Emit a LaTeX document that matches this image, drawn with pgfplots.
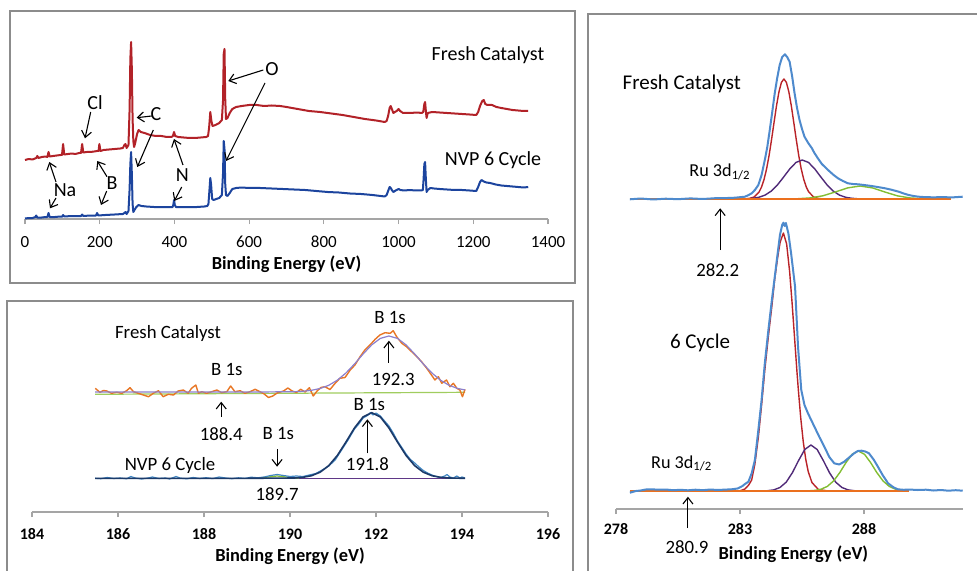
\documentclass[border=0pt]{standalone}
\usepackage{pgfplots}
\pgfplotsset{compat=1.18}
\usepackage{fontspec}
\setmainfont{Carlito}
\usetikzlibrary{arrows.meta}

\definecolor{framegray}{RGB}{140,140,140}
\definecolor{axgray}{RGB}{165,165,165}
\definecolor{survred}{RGB}{178,34,40}
\definecolor{survblue}{RGB}{28,68,158}
\definecolor{borange}{RGB}{232,118,36}
\definecolor{bfit}{RGB}{140,128,205}
\definecolor{bgreen}{RGB}{160,205,95}
\definecolor{nvpblue}{RGB}{65,135,195}
\definecolor{nvpnavy}{RGB}{28,58,105}
\definecolor{nvpbase}{RGB}{95,55,135}
\definecolor{rublue}{RGB}{78,138,205}
\definecolor{rured}{RGB}{185,35,40}
\definecolor{rupurple}{RGB}{80,42,120}
\definecolor{rugreen}{RGB}{130,190,50}
\definecolor{ruorange}{RGB}{235,112,30}

\newcommand{\fs}[1]{\fontsize{#1}{#1}\selectfont}

\tikzset{arr/.style={-{Straight Barb[length=3.2pt,width=5pt]}, line width=0.55pt, black}}
\pgfplotsset{
  panel/.style={
    scale only axis, clip=false,
    axis x line*=bottom, axis y line=none,
    axis line style={draw=axgray, line width=0.6pt},
    xtick style={draw=axgray, line width=0.6pt},
    tick align=outside, major tick length=2.5pt,
    xlabel style={font=\bfseries\fs{9.2}, at={(axis description cs:0.5,0)}, anchor=center},
    every axis plot/.append style={line join=round, mark=none},
  },
}

\begin{document}
\begin{tikzpicture}[x=0.5pt,y=-0.5pt]
\useasboundingbox (0,0) rectangle (977,571);
\fill[white] (0,0) rectangle (977,571);

% panel frames
\draw[framegray, line width=0.7pt] (10,11) rectangle (575,283);
\draw[framegray, line width=0.7pt] (7,590) -- (7,301) -- (573,301) -- (573,590);
\draw[framegray, line width=0.9pt] (588,590) -- (588,14) -- (990,14);

\coordinate (A) at (25,219);
\coordinate (B) at (32,512);
\coordinate (C) at (616,509);

% ---------------- survey spectra ----------------
\begin{axis}[panel, at={(A)}, anchor=south west,
  width=261.5pt, height=90pt,
  xmin=0, xmax=1400, ymin=0, ymax=180,
  xtick={0,200,400,600,800,1000,1200,1400},
  xticklabels={0,200,400,600,800,1000,1200,1400},
  xticklabel style={font=\fs{8.5}, anchor=center, yshift=-9pt},
  xlabel={Binding Energy (eV)}, xlabel style={yshift=-22.5pt}]
\addplot[survred, line width=1pt] coordinates {
(0,59) (10,60) (20,59.5) (30,61) (33,63) (36,61) (45,62) (55,62.5) (60,62) (63,67) (66,62.5)
(75,63) (85,63.5) (95,64) (99,64) (102,75) (105,64.5) (115,65) (125,65.5) (135,65) (145,66)
(150,66) (153,75) (156,66.5) (165,67) (175,67) (185,67.5) (193,68) (197,68) (199,75) (202,68)
(210,69) (225,69.5) (240,70) (255,70.5) (262,71) (266,74) (269,75) (272,71) (277,74) (280,110)
(282,160) (284,177) (286,150) (288,100) (290,78) (292,72) (295,76) (300,85) (304,89) (310,87)
(320,86) (335,84) (350,83) (365,83) (380,82) (392,82) (396,83) (399,87) (402,83) (410,82)
(425,81.5) (440,81) (455,81) (470,81.5) (485,82) (490,83) (493,92) (496,107) (499,98) (502,93)
(510,94) (520,96) (527,99) (530,118) (532,165) (534,170) (536,120) (538,100) (542,101) (548,106)
(555,110) (565,112) (580,113) (600,114) (620,114) (640,113) (660,113.5) (683,113) (700,112)
(730,110) (760,108) (790,107) (820,105.5) (850,104) (880,102) (910,100) (940,98.5) (963,97)
(968,98) (972,103) (976,111) (979,113) (982,110) (986,106) (990,107) (995,108) (1000,110)
(1004,108) (1012,106) (1030,106) (1050,106.5) (1062,106) (1066,107) (1069,115) (1071,117)
(1073,108) (1075,101) (1078,106) (1090,107) (1110,106.5) (1130,106) (1150,105.5) (1170,105)
(1190,104.5) (1208,104) (1213,107) (1218,113) (1224,118) (1228,119) (1232,115) (1238,114)
(1250,114) (1262,112) (1275,111) (1290,110) (1305,109) (1320,108.5) (1335,108) (1347,108)};
\addplot[survblue, line width=1pt] coordinates {
(0,0.5) (10,1) (20,1) (28,2) (30,3.5) (33,1.5) (45,1.5) (55,2) (60,2) (63,6) (66,2) (80,2)
(95,2.5) (100,2.5) (102,4) (105,2.5) (125,3) (145,3) (150,3) (153,4.5) (156,3) (175,3.5)
(190,3.5) (193,6) (196,3.5) (215,4) (240,4.5) (262,5) (266,6) (269,7) (272,5) (277,8) (280,30)
(282,55) (284,67) (286,45) (288,15) (290,7) (293,9) (298,12) (304,14) (312,13) (325,12.5)
(345,12) (365,12) (385,12) (395,12) (397,14) (399,19) (401,14) (404,12) (420,12) (440,12)
(460,12) (480,12.5) (488,13) (491,15) (493,25) (496,41) (498,35) (501,20) (505,19) (512,20)
(520,21) (527,24) (530,45) (532,78) (534,70) (536,35) (538,24) (542,23) (548,26) (555,30)
(565,31) (580,31.5) (600,31) (630,31) (660,30.5) (690,30) (720,29.5) (750,29) (780,28)
(810,27) (840,26.5) (870,25.5) (900,25) (930,24) (963,22.5) (968,24) (972,28) (976,32)
(979,31) (982,29) (986,27) (992,28.5) (1000,30) (1005,29) (1015,28.5) (1030,29) (1045,28.5)
(1060,28.5) (1065,29) (1067,40) (1069,55) (1071,57) (1073,40) (1075,27) (1078,29) (1085,31)
(1095,30.5) (1110,30) (1130,29.5) (1150,29) (1170,29) (1190,28.5) (1208,28) (1213,32)
(1218,37) (1222,39) (1228,37.5) (1235,36.5) (1245,36) (1260,34.5) (1275,33.5) (1290,33)
(1305,32.5) (1320,32) (1335,31.5) (1347,32)};
\end{axis}

% survey labels and element arrows
\node[font=\fs{10}] at (488,55) {Fresh Catalyst};
\node[font=\fs{10}] at (493,160) {NVP 6 Cycle};
\node[font=\fs{10}] at (95,102.7) {Cl};
\node[font=\fs{10}] at (156,114.3) {C};
\node[font=\fs{10}] at (272,69.3) {O};
\node[font=\fs{10}] at (65,190) {Na};
\node[font=\fs{10}] at (112,183.3) {B};
\node[font=\fs{10}] at (182.3,175) {N};
\draw[arr] (90.7,112) -- (85,138.3);
\draw[arr] (151.7,116) -- (136.7,117.7);
\draw[arr] (153.3,130) -- (137.3,167);
\draw[arr] (263.3,70) -- (228.3,81);
\draw[arr] (265,83) -- (226,161);
\draw[arr] (56,182) -- (49.3,162);
\draw[arr] (56,198) -- (50,208.3);
\draw[arr] (107,176.7) -- (97.3,161);
\draw[arr] (106.7,191) -- (101,205);
\draw[arr] (183,165) -- (174,139);
\draw[arr] (181.7,187) -- (174.3,201);

% ---------------- B 1s region ----------------
\begin{axis}[panel, at={(B)}, anchor=south west,
  width=258pt, height=100pt,
  xmin=184, xmax=196, ymin=0, ymax=200,
  xtick={184,186,188,190,192,194,196},
  xticklabels={184,186,188,190,192,194,196},
  xticklabel style={font=\bfseries\fs{8}, anchor=center, yshift=-8.5pt},
  xlabel={Binding Energy (eV)}, xlabel style={yshift=-22pt}]
% fresh catalyst
\addplot[bgreen, line width=0.6pt] coordinates {(185.47,117.7) (194.07,119.7)};
\addplot[borange, line width=0.7pt] coordinates {
(185.47,123.7) (185.58,119.7) (185.66,121.5) (185.74,121) (185.85,118.7) (185.97,119.7)
(186.09,118.7) (186.2,121.3) (186.28,124.3) (186.36,120.3) (186.47,118.7) (186.59,117)
(186.71,115.3) (186.82,118.7) (186.94,121.3) (187.05,115.3) (187.17,117.7) (187.29,117)
(187.4,121) (187.52,122) (187.63,118.7) (187.71,123.7) (187.81,127) (187.87,118.7)
(187.95,120.3) (188.06,118.7) (188.18,120.3) (188.3,122) (188.41,119.3) (188.53,120.3)
(188.62,126) (188.72,120.3) (188.84,121.3) (188.95,118.7) (189.07,120.3) (189.19,122.7)
(189.3,120.3) (189.4,118) (189.5,114.5) (189.6,116) (189.7,119) (189.85,121) (189.95,124)
(190.05,121) (190.15,119.5) (190.25,122.7) (190.35,120) (190.45,124.3) (190.54,116)
(190.63,121) (190.72,124.5) (190.81,125.3) (190.93,122.5) (191.05,128.7) (191.16,133.7)
(191.28,134.5) (191.4,142) (191.51,147) (191.63,155.3) (191.74,162) (191.86,167)
(191.98,172.7) (192.09,177) (192.21,179.3) (192.33,178.7) (192.4,181.3) (192.48,175.3)
(192.6,168.7) (192.71,165.3) (192.83,160.3) (192.95,155.3) (193.06,150.3) (193.18,143.7)
(193.29,137) (193.37,132) (193.45,135.3) (193.53,128.7) (193.64,132) (193.72,125.3)
(193.8,128.7) (193.88,123.7) (193.95,122) (194.01,115.3) (194.07,122.7)};
\addplot[bfit, line width=0.6pt] coordinates {
(185.47,120) (186.5,120) (187.5,120) (188.5,120) (189.5,120.1) (190.1,120.3) (190.3,120.7)
(190.5,121.7) (190.7,123.5) (190.9,126.7) (191.1,131.8) (191.3,139) (191.5,148) (191.7,158)
(191.9,167.1) (192.1,173.6) (192.3,176) (192.5,173.6) (192.7,167.1) (192.9,158) (193.1,148)
(193.3,139) (193.5,131.8) (193.7,126.7) (193.9,123.5) (194.07,122.1)};
% NVP 6 cycle
\addplot[nvpbase, line width=0.6pt] coordinates {(185.47,33.7) (194.07,33.7)};
\addplot[rugreen, line width=0.6pt] coordinates {(189.2,33.7) (189.45,34.8) (189.7,36) (189.95,34.8) (190.2,33.7)};
\addplot[nvpblue, line width=0.6pt] coordinates {
(185.47,33.7) (185.6,33.3) (185.75,34.5) (185.9,33.5) (186.05,34) (186.2,33.2) (186.3,35.5)
(186.4,34) (186.55,33) (186.7,34) (186.8,35) (186.95,33.5) (187.1,34) (187.2,33) (187.35,35.5)
(187.45,33.8) (187.6,33.2) (187.75,34.5) (187.9,33.5) (188.05,34.3) (188.2,33.4) (188.35,35)
(188.5,34) (188.65,33.3) (188.8,34.2) (188.95,33.6) (189.1,34.8) (189.25,34.2) (189.4,35)
(189.55,36.5) (189.7,37.5) (189.85,36.5) (190,35.5) (190.15,36) (190.3,35.5) (190.45,37)
(190.6,38.5) (190.75,42) (190.9,46) (191.05,52) (191.2,62) (191.35,72) (191.5,83) (191.6,88)
(191.7,94) (191.8,96.5) (191.87,99.5) (191.93,97) (192,99) (192.1,96) (192.2,91) (192.3,86)
(192.4,79) (192.5,71) (192.6,64.5) (192.7,58) (192.8,52.5) (192.9,49) (193,45) (193.1,41.5)
(193.2,39) (193.3,37) (193.4,35.5) (193.5,34.5) (193.6,36) (193.65,37.5) (193.72,35)
(193.8,34) (193.88,36) (193.95,34) (194,35) (194.07,34)};
\addplot[nvpnavy, line width=0.8pt] coordinates {
(185.47,33.7) (189,33.7) (190.1,34) (190.3,34.7) (190.5,36.3) (190.7,39.8) (190.9,46.3)
(191.1,56.5) (191.3,69.9) (191.5,84.1) (191.7,95.1) (191.9,99.3) (192.1,95.1) (192.3,84.1)
(192.5,69.9) (192.7,56.5) (192.9,46.3) (193.1,39.8) (193.3,36.3) (193.5,34.7) (193.7,34)
(194.07,33.7)};
% peak positions
\draw[arr] (axis cs:188.4,95.3) -- (axis cs:188.4,110.3);
\node[font=\fs{9.4}] at (axis cs:188.4,78) {188.4};
\draw[arr] (axis cs:189.7,62.7) -- (axis cs:189.7,45.3);
\node[font=\fs{9.4}] at (axis cs:189.7,18) {189.7};
\draw[arr] (axis cs:192.3,149.3) -- (axis cs:192.3,171.3);
\node[font=\fs{9.4}] at (axis cs:192.4,132.7) {192.3};
\draw[arr] (axis cs:191.8,58.7) -- (axis cs:191.8,92.7);
\node[font=\fs{9.4}] at (axis cs:191.8,48) {191.8};
\end{axis}

\node[font=\fs{9.4}] at (168,333.3) {Fresh Catalyst};
\node[font=\fs{9.4}] at (226.7,370) {B 1s};
\node[font=\fs{9.4}] at (170,465) {NVP 6 Cycle};
\node[font=\fs{9.4}] at (278.3,434) {B 1s};
\node[font=\fs{9.4}] at (390,317.3) {B 1s};
\node[font=\fs{9.4}] at (369.3,405) {B 1s};

% ---------------- Ru 3d / C 1s region ----------------
\begin{axis}[panel, at={(C)}, anchor=south west,
  width=173.6pt, height=230pt,
  xmin=278, xmax=292, ymin=0, ymax=460,
  xtick={278,283,288},
  xticklabels={278,283,288},
  xticklabel style={font=\bfseries\fs{8}, anchor=center, yshift=-7.5pt},
  xlabel={Binding Energy (eV)}, xlabel style={yshift=-22.5pt, xshift=1.9pt}]
% fresh catalyst
\addplot[rured, line width=0.7pt] coordinates {
(283.17,310.1) (283.37,310.5) (283.57,312) (283.77,317.1) (283.87,322.1) (283.97,329.6)
(284.07,339.9) (284.17,353.2) (284.27,369.1) (284.37,386.2) (284.47,403) (284.57,417.1)
(284.67,426.6) (284.77,430) (284.87,426.6) (284.97,417.1) (285.07,403) (285.17,386.2)
(285.27,369.1) (285.37,353.2) (285.47,339.9) (285.57,329.6) (285.67,322.1) (285.77,317.1)
(285.97,312) (286.17,310.5) (286.37,310.1)};
\addplot[rupurple, line width=0.7pt] coordinates {
(283.26,310.2) (283.51,310.7) (283.76,311.7) (284.01,313.9) (284.26,317.9) (284.51,324.1)
(284.76,332) (285.01,340.2) (285.26,346.6) (285.51,349) (285.76,346.6) (286.01,340.2)
(286.26,332) (286.51,324.1) (286.76,317.9) (287.01,313.9) (287.26,311.7) (287.51,310.7)
(287.76,310.2)};
\addplot[rugreen, line width=0.7pt] coordinates {
(284.84,310.05) (285.34,310.3) (285.84,311.1) (286.34,313.2) (286.84,317) (287.34,321.1)
(287.84,323) (288.34,321.1) (288.84,317) (289.34,313.2) (289.84,311.1) (290.34,310.3)
(290.84,310.05)};
\addplot[ruorange, line width=0.9pt] coordinates {(278.56,310) (291.5,310)};
\addplot[rublue, line width=1pt] coordinates {
(278.56,309.7) (279,310.5) (279.5,309.5) (280,310.3) (280.5,309.8) (281,310.6) (281.5,310)
(282,310.8) (282.5,311) (282.8,311.3) (283,311.8) (283.2,312.3) (283.35,314) (283.47,315.7)
(283.6,319) (283.74,324) (283.87,334) (284,349) (284.1,362) (284.2,379) (284.3,397)
(284.4,415.7) (284.5,431) (284.6,444) (284.7,452) (284.81,454.7) (284.9,452) (285,447.3)
(285.1,433) (285.2,415.7) (285.3,401) (285.4,389) (285.5,380) (285.6,372.3) (285.75,366)
(285.9,360.7) (286,356) (286.14,350.7) (286.3,345) (286.55,339) (286.75,334.5) (286.95,330.7)
(287.15,328) (287.35,325.7) (287.55,325) (287.76,324.7) (288,324) (288.3,323) (288.55,322)
(288.85,320.7) (289.1,319.3) (289.4,317.3) (289.6,315.5) (289.8,314) (290,313) (290.2,312.3)
(290.5,311.8) (290.86,311.7) (291.2,312) (291.5,311.5) (291.98,312.3)};
% 6 cycle
\addplot[rured, line width=0.7pt] coordinates {
(283,18.2) (283.2,20) (283.35,24) (283.47,29) (283.6,45) (283.74,72) (283.87,104) (284,139)
(284.14,172) (284.28,202) (284.4,230) (284.52,252) (284.62,267) (284.75,276) (284.88,265)
(285,237.6) (285.1,206) (285.2,171) (285.3,136) (285.35,119.8) (285.45,90.7) (285.55,67.4)
(285.65,49.8) (285.75,37.5) (285.9,26.5) (286.16,19.5) (286.5,18.2) (287,18)};
\addplot[rupurple, line width=0.7pt] coordinates {
(284.11,18.3) (284.36,19.1) (284.61,21.5) (284.86,26.8) (285.11,36.2) (285.36,48.4)
(285.61,59.5) (285.86,64) (286.11,59.5) (286.36,48.4) (286.61,36.2) (286.86,26.8)
(287.11,21.5) (287.36,19.1) (287.61,18.3)};
\addplot[rugreen, line width=0.7pt] coordinates {
(285.77,18.2) (286.02,18.6) (286.27,19.8) (286.52,22.6) (286.77,28) (287.02,36.3)
(287.27,46.3) (287.52,54.7) (287.77,58) (288.02,54.7) (288.27,46.3) (288.52,36.3)
(288.77,28) (289.02,22.6) (289.27,19.8) (289.52,18.6) (289.77,18.2)};
\addplot[ruorange, line width=0.9pt] coordinates {(278.56,18) (289.8,18)};
\addplot[rublue, line width=1pt] coordinates {
(278.56,16.3) (278.8,18) (279,18.5) (279.2,19.5) (279.44,19.7) (279.7,19.3) (280,19.5)
(280.3,18.8) (280.6,19.2) (280.9,18.7) (281.2,19.3) (281.5,18.8) (281.8,19.5) (282.1,19)
(282.4,19.4) (282.66,19.7) (282.9,20.5) (283.1,23) (283.2,25) (283.34,27.3) (283.47,35.7)
(283.6,49) (283.74,79) (283.87,109) (284,145.7) (284.14,178) (284.28,208) (284.4,232)
(284.52,256) (284.61,274) (284.7,284) (284.75,286.3) (284.8,283) (284.85,286) (284.95,275.7)
(285.06,255.7) (285.22,222.3) (285.34,162) (285.47,119) (285.6,104) (285.74,95.7) (285.87,89)
(286,82.3) (286.2,72) (286.4,62.3) (286.6,52) (286.8,45.7) (287,44.5) (287.2,47.3)
(287.4,51.5) (287.6,55.7) (287.75,58) (287.9,58.3) (288.05,57.5) (288.2,55.7) (288.4,49)
(288.56,42.3) (288.75,34) (288.97,25.7) (289.2,21.5) (289.37,19.7) (289.6,19.2) (289.8,19.5)
(290.17,19) (290.5,19.3) (290.8,18.5) (291.1,19) (291.4,18.3) (291.7,18.8) (291.98,18.3)};
% Ru 3d positions
\draw[arr] (axis cs:282.2,259) -- (axis cs:282.2,300.7);
\node[font=\fs{9.4}] at (axis cs:282.1,239) {282.2};
\draw[arr] (axis cs:280.9,-19) -- (axis cs:280.9,12.3);
\node[font=\fs{9.4}] at (axis cs:280.86,-37.7) {280.9};
\end{axis}

\node[font=\fs{10.5}] at (681.7,84) {Fresh Catalyst};
\node[font=\fs{9.1}] at (720,171.7) {Ru 3d\textsubscript{1/2}};
\node[font=\fs{10.5}] at (700,343.3) {6 Cycle};
\node[font=\fs{9.1}] at (681.7,463.3) {Ru 3d\textsubscript{1/2}};
\end{tikzpicture}
\end{document}
